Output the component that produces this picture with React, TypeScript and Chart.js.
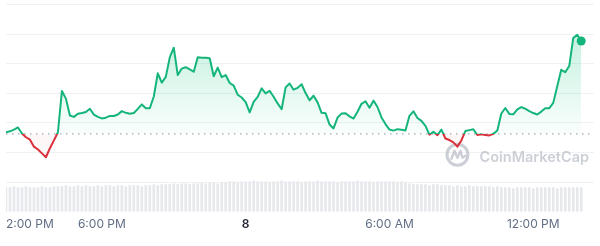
import React, { useEffect, useRef } from 'react';
import { Chart, registerables } from 'chart.js';

Chart.register(...registerables);

// 10-minute steps from 2:00 PM to 2:00 PM next day
const PRICES = [
  26.82, 27.14, 27.69, 28.44, 26.40, 25.13, 24.32, 21.95, 20.97, 19.68,
  18.38, 21.43, 24.06, 26.82, 40.78, 38.18, 32.47, 32.01, 33.08, 33.31,
  33.67, 34.77, 32.79, 32.01, 31.49, 31.75, 32.34, 32.31, 32.82, 33.96,
  33.38, 33.08, 33.31, 34.71, 36.23, 34.94, 34.94, 38.90, 46.75, 43.57,
  45.55, 52.14, 55.39, 46.14, 48.34, 48.80, 48.08, 47.27, 52.14, 51.98,
  52.01, 51.82, 45.75, 48.67, 45.42, 46.17, 43.47, 42.56, 39.51, 38.57,
  37.01, 33.54, 37.11, 38.77, 41.66, 39.97, 40.84, 38.83, 36.56, 34.61,
  41.98, 43.28, 41.20, 41.82, 43.05, 40.06, 37.63, 39.16, 36.92, 33.38,
  33.28, 29.42, 28.12, 31.79, 33.12, 33.25, 32.18, 31.46, 33.73, 36.43,
  37.31, 35.10, 37.50, 35.36, 31.82, 29.58, 27.73, 27.37, 27.86, 27.69,
  27.40, 32.37, 33.90, 31.66, 30.65, 28.99, 26.00, 27.01, 25.85, 27.70,
  24.71, 24.19, 23.38, 21.95, 24.06, 27.21, 27.53, 27.82, 25.88, 26.10,
  25.91, 25.75, 26.27, 27.40, 33.15, 35.03, 33.02, 32.89, 34.55, 35.32,
  34.77, 33.96, 33.31, 32.82, 33.80, 34.94, 34.94, 36.75, 42.37, 47.92,
  47.11, 49.19, 58.64, 59.77, 57.66,
];

const VOLUMES = [
  25, 25, 26, 25, 25, 26, 25, 25, 25, 26, 25, 25, 26, 26,
  26, 27, 26, 26, 27, 26, 27, 26, 26, 27, 26, 27, 27, 26, 27, 27, 26, 27, 27, 27, 26, 27, 27, 28, 27, 28,
  28, 28, 29, 28, 29, 29, 28, 29, 29, 30, 29, 30, 30, 29, 30, 30,
  31, 31, 30, 31, 31, 31, 32, 31, 31, 31, 30, 31, 31, 32, 31, 31, 31, 31, 30, 31, 31, 31, 32, 31, 31, 31, 31, 30, 31, 31, 31, 31, 32, 31, 31, 31, 30, 31, 31, 31, 31, 31, 30, 31, 30,
  29, 28, 28, 28, 28, 27, 28, 28, 27, 27,
  27, 26, 27, 26, 26, 27, 26, 26, 26, 26, 26, 25, 26,
  25, 25, 25, 24, 25, 25, 25, 25, 24, 25, 25, 25, 25, 25, 24, 25, 25, 25, 25, 25, 25,
];

const OPEN_PRICE = 26.27;
const X_MAX = 147.2;
const TICK_STEPS = [0, 24, 60, 96, 132];
const TICK_LABELS = ['2:00 PM', '6:00 PM', '8', '6:00 AM', '12:00 PM'];
const BOLD_LABEL = '8';

const GREEN = '#13b57a';
const RED = '#d9303c';

const labelFor = (v: number) => {
  const i = TICK_STEPS.indexOf(v);
  return i >= 0 ? TICK_LABELS[i] : '';
};

const watermark = {
  id: 'cmcWatermark',
  beforeDatasetsDraw(chart: any) {
    const { ctx, chartArea } = chart;
    const text = 'CoinMarketCap';
    const right = chartArea.right - 5;
    const cy = chartArea.top + (chartArea.bottom - chartArea.top) * 0.74;
    ctx.save();
    let size = 19;
    ctx.font = `600 ${size}px Inter`;
    while (ctx.measureText(text).width > 113 && size > 10) {
      size -= 0.5;
      ctx.font = `600 ${size}px Inter`;
    }
    const w = ctx.measureText(text).width;
    const col = 'rgba(170,176,186,0.6)';
    ctx.fillStyle = col;
    ctx.textAlign = 'right';
    ctx.textBaseline = 'middle';
    ctx.fillText(text, right, cy);
    const lx = right - w - 22;
    const ly = cy - 3;
    ctx.strokeStyle = col;
    ctx.lineWidth = 3;
    ctx.beginPath();
    ctx.arc(lx, ly, 10.5, 0, Math.PI * 2);
    ctx.stroke();
    ctx.lineWidth = 2.4;
    ctx.lineJoin = 'round';
    ctx.lineCap = 'round';
    ctx.beginPath();
    ctx.moveTo(lx - 6, ly + 4);
    ctx.lineTo(lx - 3, ly - 4);
    ctx.lineTo(lx, ly + 3);
    ctx.lineTo(lx + 3, ly - 4);
    ctx.lineTo(lx + 5, ly + 3);
    ctx.lineTo(lx + 8, ly + 1);
    ctx.stroke();
    ctx.restore();
  },
};

export default function App() {
  const ref = useRef<HTMLCanvasElement>(null);

  useEffect(() => {
    document.body.style.margin = '0';
    const canvas = ref.current;
    if (!canvas) return;
    const last = PRICES.length - 1;

    const lineColor = (c: any) => {
      const { chart } = c;
      const { ctx, chartArea, scales } = chart;
      if (!chartArea) return GREEN;
      const yb = scales.y.getPixelForValue(OPEN_PRICE);
      const f = Math.min(1, Math.max(0, (yb - chartArea.top) / (chartArea.bottom - chartArea.top)));
      const g = ctx.createLinearGradient(0, chartArea.top, 0, chartArea.bottom);
      g.addColorStop(0, GREEN);
      g.addColorStop(f, GREEN);
      g.addColorStop(f, RED);
      g.addColorStop(1, RED);
      return g;
    };

    const fillColor = (c: any) => {
      const { chart } = c;
      const { ctx, chartArea, scales } = chart;
      if (!chartArea) return 'rgba(22,199,132,0.1)';
      const yb = scales.y.getPixelForValue(OPEN_PRICE);
      const g = ctx.createLinearGradient(0, chartArea.top + 25, 0, yb);
      g.addColorStop(0, 'rgba(22,199,132,0.26)');
      g.addColorStop(1, 'rgba(22,199,132,0.02)');
      return g;
    };

    const chart = new Chart(canvas, {
      type: 'line',
      data: {
        datasets: [
          {
            type: 'line',
            data: PRICES.map((p, i) => ({ x: i, y: p })),
            borderColor: lineColor,
            backgroundColor: fillColor,
            borderWidth: 2,
            tension: 0,
            borderJoinStyle: 'round',
            fill: { value: OPEN_PRICE, below: 'rgba(234,57,67,0.04)' } as any,
            pointRadius: (c: any) => (c.dataIndex === last ? 4.5 : 0),
            pointBackgroundColor: GREEN,
            pointBorderWidth: 0,
            xAxisID: 'x',
            yAxisID: 'y',
            order: 0,
          } as any,
          {
            type: 'line',
            data: [
              { x: 0, y: OPEN_PRICE },
              { x: X_MAX, y: OPEN_PRICE },
            ],
            borderColor: '#a1a7b3',
            borderWidth: 1.3,
            borderDash: [1.5, 4.5],
            pointRadius: 0,
            fill: false,
            xAxisID: 'x',
            yAxisID: 'y',
            order: 1,
          } as any,
          {
            type: 'bar',
            data: VOLUMES.map((v, i) => ({ x: i, y: v })),
            backgroundColor: '#e6e8eb',
            barThickness: 2,
            xAxisID: 'x',
            yAxisID: 'yv',
            order: 2,
          } as any,
        ],
      },
      options: {
        responsive: false,
        animation: false,
        events: [],
        layout: { padding: { top: 2, bottom: 8, left: 0, right: 0 } },
        plugins: { legend: { display: false }, tooltip: { enabled: false } },
        scales: {
          x: {
            type: 'linear',
            min: 0,
            max: X_MAX,
            offset: false,
            grid: { display: false, drawTicks: false },
            border: { display: false },
            afterBuildTicks: (scale: any) => {
              scale.ticks = [...TICK_STEPS, X_MAX].map((v) => ({ value: v }));
            },
            ticks: {
              autoSkip: false,
              maxRotation: 0,
              align: 'inner',
              padding: 6,
              callback: (v: any) => labelFor(Number(v)),
              color: (c: any) => (labelFor(c.tick?.value) === BOLD_LABEL ? '#222531' : '#616e85'),
              font: (c: any) => ({
                family: 'Inter',
                size: 12,
                weight: labelFor(c.tick?.value) === BOLD_LABEL ? '600' : '400',
              }),
            },
          } as any,
          y: {
            type: 'linear',
            position: 'left',
            min: 0,
            max: 70,
            ticks: { display: false, stepSize: 10 },
            grid: {
              drawTicks: false,
              color: (c: any) => (c.tick && c.tick.value === 0 ? 'rgba(0,0,0,0)' : '#eff1f4'),
              lineWidth: 1,
            },
            border: { display: false },
          } as any,
          yv: {
            type: 'linear',
            display: false,
            min: 0,
            max: 215.6,
          },
        },
      },
      plugins: [watermark],
    });

    return () => chart.destroy();
  }, []);

  return (
    <div style={{ width: 600, height: 246 }}>
      <canvas ref={ref} width={600} height={246} />
    </div>
  );
}
